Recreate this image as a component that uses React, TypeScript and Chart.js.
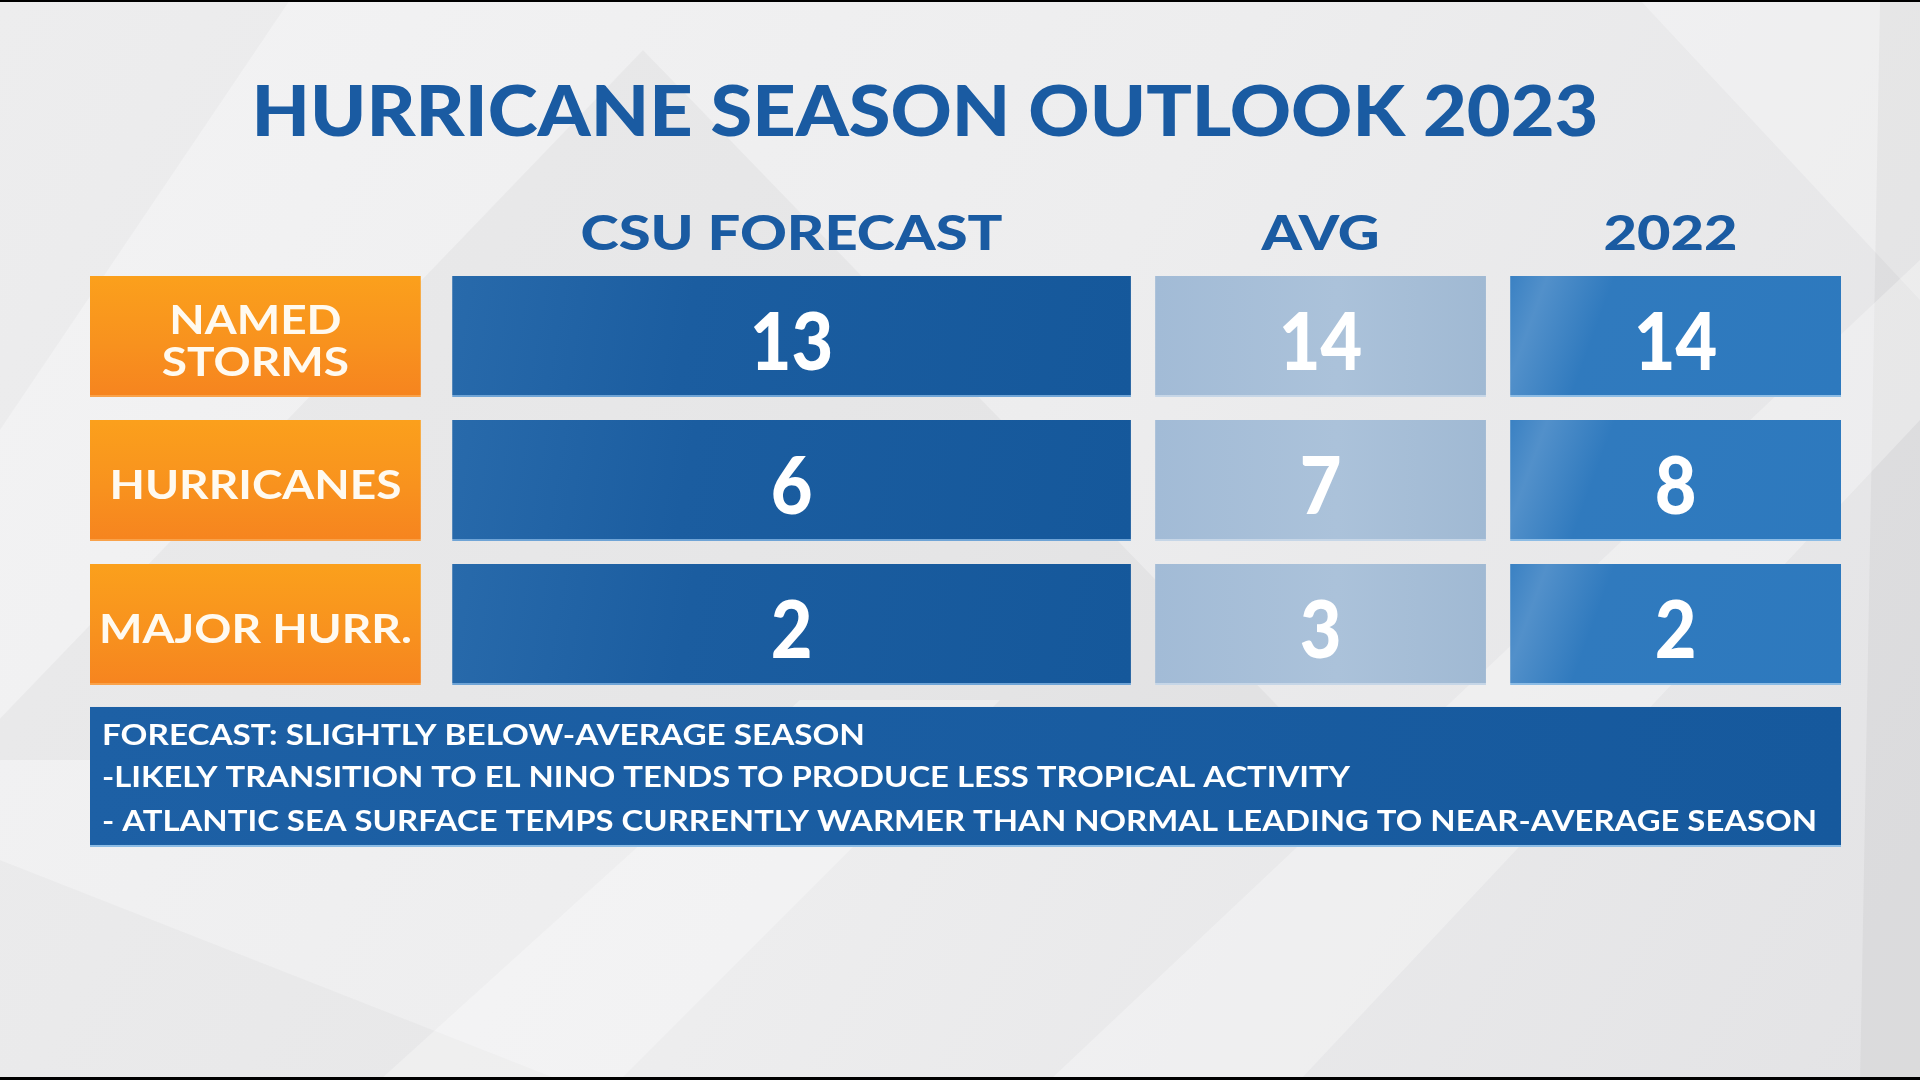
import React, { useEffect, useRef } from "react";
import { Chart, registerables } from "chart.js";

Chart.register(...registerables);

// ---------------- data ----------------
const TITLE = "HURRICANE SEASON OUTLOOK 2023";
const columnHeaders = ["CSU FORECAST", "AVG", "2022"];
const rowLabels: (string | string[])[] = [["NAMED", "STORMS"], "HURRICANES", "MAJOR HURR."];
const csuForecast = [13, 6, 2];
const seasonAverage = [14, 7, 3];
const season2022 = [14, 8, 2];
const notes = [
  "FORECAST: SLIGHTLY BELOW-AVERAGE SEASON",
  "-LIKELY TRANSITION TO EL NINO TENDS TO PRODUCE LESS TROPICAL ACTIVITY",
  "- ATLANTIC SEA SURFACE TEMPS CURRENTLY WARMER THAN NORMAL LEADING TO NEAR-AVERAGE SEASON",
];

// ---------------- layout / style ----------------
const CELL_FILL = 0.932; // share of a column slot covered by a cell
const COLUMN_SLOTS = [
  { start: 0, span: 1, paint: "orange" },
  { start: 1.02, span: 1.98, paint: "csu" },
  { start: 3, span: 1, paint: "avg" },
  { start: 4, span: 1, paint: "y2022" },
];
const BAR_PCT = 0.84;
const FONT = "Lato, 'Open Sans', sans-serif";
const BLUE_TEXT = "#1A5BA2";
const STYLE = {
  titleY: 110,
  titleCenterX: 925,
  titleWidth: 1347,
  headerOffset: 32,
  headerWidths: [422, 118, 134],
  headerShift: [0, 0, -5],
  noteGap: 22,
  noteHeight: 140,
  notePadX: 12,
  noteLineOffsets: [28, 70, 114],
  noteWidths: [763, 1248, 1715],
};

const PAINTS: Record<string, { stops: [number, string][]; dir: "v" | "diagDown" | "h"; edge: string }> = {
  orange: { stops: [[0, "#FBA01C"], [0.55, "#F8921E"], [1, "#F6841F"]], dir: "v", edge: "#F9A24A" },
  csu: { stops: [[0, "#286AAB"], [0.35, "#1B5DA0"], [1, "#15589B"]], dir: "diagDown", edge: "#6FA4D6" },
  avg: { stops: [[0, "#A2BBD6"], [0.55, "#ABC2DA"], [1, "#A0B9D3"]], dir: "h", edge: "#C6D6E7" },
  y2022: { stops: [[0, "#3A81C3"], [0.1, "#5290CA"], [0.28, "#307ABE"], [1, "#2D79BE"]], dir: "diagDown", edge: "#8CBCE5" },
};

function cellPaint(c: any, key: string) {
  const p = PAINTS[key];
  const chart = c.chart;
  const xs = chart.scales?.x;
  const ys = chart.scales?.y;
  if (c.type !== "data" || !xs || !ys || !chart.chartArea) return p.stops[1][1];
  const [a, b] = c.raw as [number, number];
  const x0 = xs.getPixelForValue(a);
  const x1 = xs.getPixelForValue(b);
  const yc = ys.getPixelForValue(c.dataIndex);
  const half = (chart.chartArea.height / rowLabels.length) * BAR_PCT / 2;
  const ctx = chart.ctx as CanvasRenderingContext2D;
  let g: CanvasGradient;
  if (p.dir === "v") g = ctx.createLinearGradient(x0, yc - half, x0, yc + half);
  else if (p.dir === "diagDown") g = ctx.createLinearGradient(x0, yc - half, x1, yc + half);
  else g = ctx.createLinearGradient(x0, yc, x1, yc);
  p.stops.forEach(([o, col]) => g.addColorStop(o, col));
  return g;
}

function drawText(
  ctx: CanvasRenderingContext2D,
  text: string,
  x: number,
  cy: number,
  font: string,
  color: string,
  opts: { width?: number; scaleX?: number; align?: CanvasTextAlign } = {}
) {
  ctx.save();
  ctx.font = font;
  ctx.fillStyle = color;
  ctx.textBaseline = "alphabetic";
  ctx.textAlign = opts.align || "center";
  const m = ctx.measureText(text);
  const capH = ctx.measureText("H").actualBoundingBoxAscent;
  const sx = opts.width ? opts.width / m.width : opts.scaleX || 1;
  ctx.translate(x, cy + capH / 2);
  ctx.scale(sx, 1);
  ctx.fillText(text, 0, 0);
  ctx.restore();
}

const backdropPlugin = {
  id: "backdrop",
  beforeDraw(chart: any) {
    const ctx = chart.ctx as CanvasRenderingContext2D;
    const W = chart.width;
    const H = chart.height;
    ctx.save();
    const bg = ctx.createLinearGradient(0, 0, W, H);
    bg.addColorStop(0, "#F3F3F4");
    bg.addColorStop(0.5, "#EDEDEE");
    bg.addColorStop(1, "#E3E3E5");
    ctx.fillStyle = bg;
    ctx.fillRect(0, 0, W, H);
    const poly = (pts: number[][], fill: string) => {
      ctx.beginPath();
      ctx.moveTo(pts[0][0], pts[0][1]);
      pts.slice(1).forEach((p) => ctx.lineTo(p[0], p[1]));
      ctx.closePath();
      ctx.fillStyle = fill;
      ctx.fill();
    };
    poly([[0, 0], [290, 0], [0, 430]], "rgba(0,0,0,0.025)");
    poly([[643, 50], [1330, 760], [-40, 760]], "rgba(0,0,0,0.03)");
    poly([[1640, 0], [1920, 0], [1920, 300]], "rgba(255,255,255,0.3)");
    poly([[1880, 0], [1920, 0], [1920, 1080], [1860, 1080]], "rgba(0,0,0,0.035)");
    poly([[1050, 1080], [1300, 1080], [1920, 420], [1920, 260]], "rgba(255,255,255,0.3)");
    poly([[0, 860], [0, 1080], [560, 1080]], "rgba(0,0,0,0.025)");
    poly([[380, 1080], [620, 1080], [1000, 700], [800, 700]], "rgba(255,255,255,0.3)");
    ctx.fillStyle = "#000";
    ctx.fillRect(0, 0, W, 2);
    ctx.fillRect(0, H - 3, W, 3);
    ctx.restore();

    const xs = chart.scales.x;
    const ys = chart.scales.y;
    const area = chart.chartArea;

    // title
    drawText(ctx, TITLE, STYLE.titleCenterX, STYLE.titleY, `900 70px ${FONT}`, BLUE_TEXT, { width: STYLE.titleWidth });

    // column headers
    columnHeaders.forEach((h, i) => {
      const slot = COLUMN_SLOTS[i + 1];
      const cx = xs.getPixelForValue(slot.start + (slot.span - (1 - CELL_FILL)) / 2) + STYLE.headerShift[i];
      drawText(ctx, h, cx, area.top - STYLE.headerOffset, `900 48px ${FONT}`, BLUE_TEXT, { width: STYLE.headerWidths[i] });
    });

    // notes box
    const half = (area.height / rowLabels.length) * BAR_PCT / 2;
    const top = ys.getPixelForValue(rowLabels.length - 1) + half + STYLE.noteGap;
    const x0 = xs.getPixelForValue(0);
    const lastSlot = COLUMN_SLOTS[COLUMN_SLOTS.length - 1];
    const x1 = xs.getPixelForValue(lastSlot.start + lastSlot.span - (1 - CELL_FILL));
    ctx.save();
    const ng = ctx.createLinearGradient(x0, top, x1, top + STYLE.noteHeight);
    ng.addColorStop(0, "#1D60A5");
    ng.addColorStop(1, "#16599D");
    ctx.fillStyle = ng;
    ctx.fillRect(x0, top, x1 - x0, STYLE.noteHeight);
    ctx.fillStyle = "#8DBDE6";
    ctx.fillRect(x0, top + STYLE.noteHeight - 2, x1 - x0, 2);
    ctx.restore();
    notes.forEach((line, i) => {
      drawText(ctx, line, x0 + STYLE.notePadX, top + STYLE.noteLineOffsets[i], `bold 29px ${FONT}`, "#FFFFFF", {
        width: STYLE.noteWidths[i],
        align: "left",
      });
    });
  },
  afterDatasetsDraw(chart: any) {
    const ctx = chart.ctx as CanvasRenderingContext2D;
    chart.data.datasets.forEach((ds: any, di: number) => {
      const meta = chart.getDatasetMeta(di);
      meta.data.forEach((el: any, i: number) => {
        const { x, y, base } = el.getProps(["x", "y", "base"], true);
        const cx = (x + base) / 2;
        const t = ds.cellText[i];
        if (di === 0) {
          const lines = Array.isArray(t) ? t : [t];
          const step = 42;
          lines.forEach((ln: string, k: number) => {
            const ly = y + 4 + (k - (lines.length - 1) / 2) * step;
            drawText(ctx, ln, cx, ly, `bold 40px ${FONT}`, "#FFFAF0", { scaleX: 1.15 });
          });
        } else {
          drawText(ctx, String(t), cx, y + 4, `900 80px ${FONT}`, "#FFFFFF", { scaleX: 0.9 });
        }
      });
    });
  },
};

const columnValues: (string | string[] | number)[][] = [rowLabels, csuForecast, seasonAverage, season2022];

export default function App() {
  const ref = useRef<HTMLCanvasElement>(null);
  useEffect(() => {
    document.body.style.margin = "0";
    const datasets = COLUMN_SLOTS.map((slot, ci) => ({
      label: ci === 0 ? "category" : columnHeaders[ci - 1],
      data: rowLabels.map(() => [slot.start, slot.start + slot.span - (1 - CELL_FILL)]),
      cellText: columnValues[ci],
      grouped: false,
      backgroundColor: (c: any) => cellPaint(c, slot.paint),
      borderColor: PAINTS[slot.paint].edge,
      borderWidth: { top: 0, left: 0, right: 0, bottom: 2 },
      borderSkipped: false,
      barPercentage: BAR_PCT,
      categoryPercentage: 1,
    }));
    const chart = new Chart(ref.current!, {
      type: "bar",
      data: { labels: rowLabels.map((l) => (Array.isArray(l) ? l.join(" ") : l)), datasets: datasets as any },
      options: {
        indexAxis: "y",
        responsive: false,
        animation: false,
        events: [],
        layout: { padding: { top: 264.5, bottom: 383.5, left: 90, right: 79 } },
        scales: {
          x: { type: "linear", min: 0, max: 4 + CELL_FILL, display: false },
          y: { type: "category", display: false, offset: true },
        },
        plugins: { legend: { display: false }, tooltip: { enabled: false }, title: { display: false } },
      },
      plugins: [backdropPlugin],
    });
    const fonts = (document as any).fonts;
    if (fonts && fonts.load) {
      Promise.all([fonts.load(`900 70px Lato`), fonts.load(`bold 40px Lato`)]).then(
        () => chart.update(),
        () => {}
      );
    }
    return () => chart.destroy();
  }, []);
  return (
    <div style={{ width: 1920, height: 1080, overflow: "hidden" }}>
      <canvas ref={ref} width={1920} height={1080} style={{ display: "block" }} />
    </div>
  );
}
